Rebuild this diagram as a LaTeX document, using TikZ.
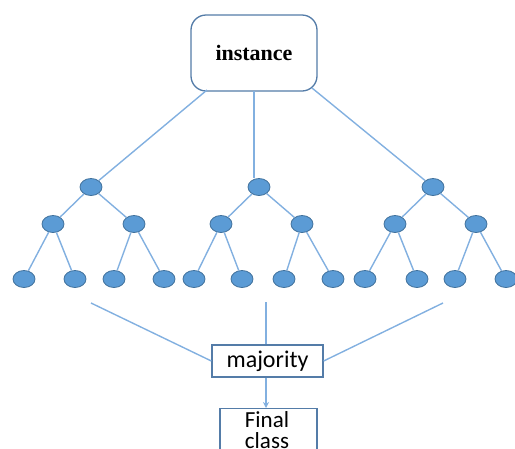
\documentclass[tikz,border=0pt]{standalone}
\usepackage{fontspec}
\setmainfont{Liberation Serif}
\newfontfamily\calib{Carlito}
\usetikzlibrary{arrows.meta,shapes.geometric}
\definecolor{lineblue}{RGB}{130,176,224}
\definecolor{nodefill}{RGB}{91,155,213}
\definecolor{nodedraw}{RGB}{65,113,156}
\definecolor{boxdraw}{RGB}{84,124,168}
\tikzset{
  tn/.style={ellipse, draw=nodedraw, fill=nodefill, line width=0.8pt, minimum width=22pt, minimum height=17pt, inner sep=0pt},
  conn/.style={draw=lineblue, line width=1.4pt},
  sqbox/.style={draw=boxdraw, line width=1.3pt, fill=white, inner sep=0pt}
}
\begin{document}
\begin{tikzpicture}[x=1pt,y=-1pt]
\useasboundingbox (0,0) rectangle (515,448);
% instance box
\node[sqbox, rounded corners=15pt, minimum width=126pt, minimum height=76pt] (inst) at (254,53) {};
\node[font=\fontsize{22}{24}\selectfont\bfseries] at (254,53) {instance};
\coordinate (i1) at (207,90);
\coordinate (i2) at (254,91);
\coordinate (i3) at (312,88);
% trees
\foreach \t/\r/\a/\b/\la/\lb/\lc/\ld in {A/91/53/134/24/75/114/164, B/259/221/302/194/242/284/333, C/433/395/476/365/417/455/506}{
  \node[tn] (\t r) at (\r,187) {};
  \node[tn] (\t a) at (\a,224) {};
  \node[tn] (\t b) at (\b,224) {};
  \node[tn] (\t 1) at (\la,279) {};
  \node[tn] (\t 2) at (\lb,279) {};
  \node[tn] (\t 3) at (\lc,279) {};
  \node[tn] (\t 4) at (\ld,279) {};
  \draw[conn] (\t r) -- (\t a);
  \draw[conn] (\t r) -- (\t b);
  \draw[conn] (\t a) -- (\t 1);
  \draw[conn] (\t a) -- (\t 2);
  \draw[conn] (\t b) -- (\t 3);
  \draw[conn] (\t b) -- (\t 4);
}
\draw[conn] (i1) -- (Ar);
\draw[conn] (i2) -- (254,178);
\draw[conn] (i3) -- (Cr);
% majority
\node[sqbox, minimum width=111pt, minimum height=32pt, font=\calib\fontsize{24}{26}\selectfont] (maj) at (267.5,361) {majority};
\coordinate (m1) at (91,303);
\coordinate (m2) at (266,302);
\coordinate (m3) at (443,303);
\draw[conn] (m1) -- (maj.west);
\draw[conn] (m3) -- (maj.east);
\draw[conn] (m2) -- (maj.north -| m2);
% final class
\node[sqbox, minimum width=97pt, minimum height=60pt, anchor=north] (fin) at (268.5,408) {};
\node[font=\calib\fontsize{23}{21}\selectfont, align=center] at (267,430) {Final\\class};
\draw[conn, -{Stealth[length=6pt,width=6pt]}] (maj.south -| m2) -- (fin.north -| m2);
\end{tikzpicture}
\end{document}
